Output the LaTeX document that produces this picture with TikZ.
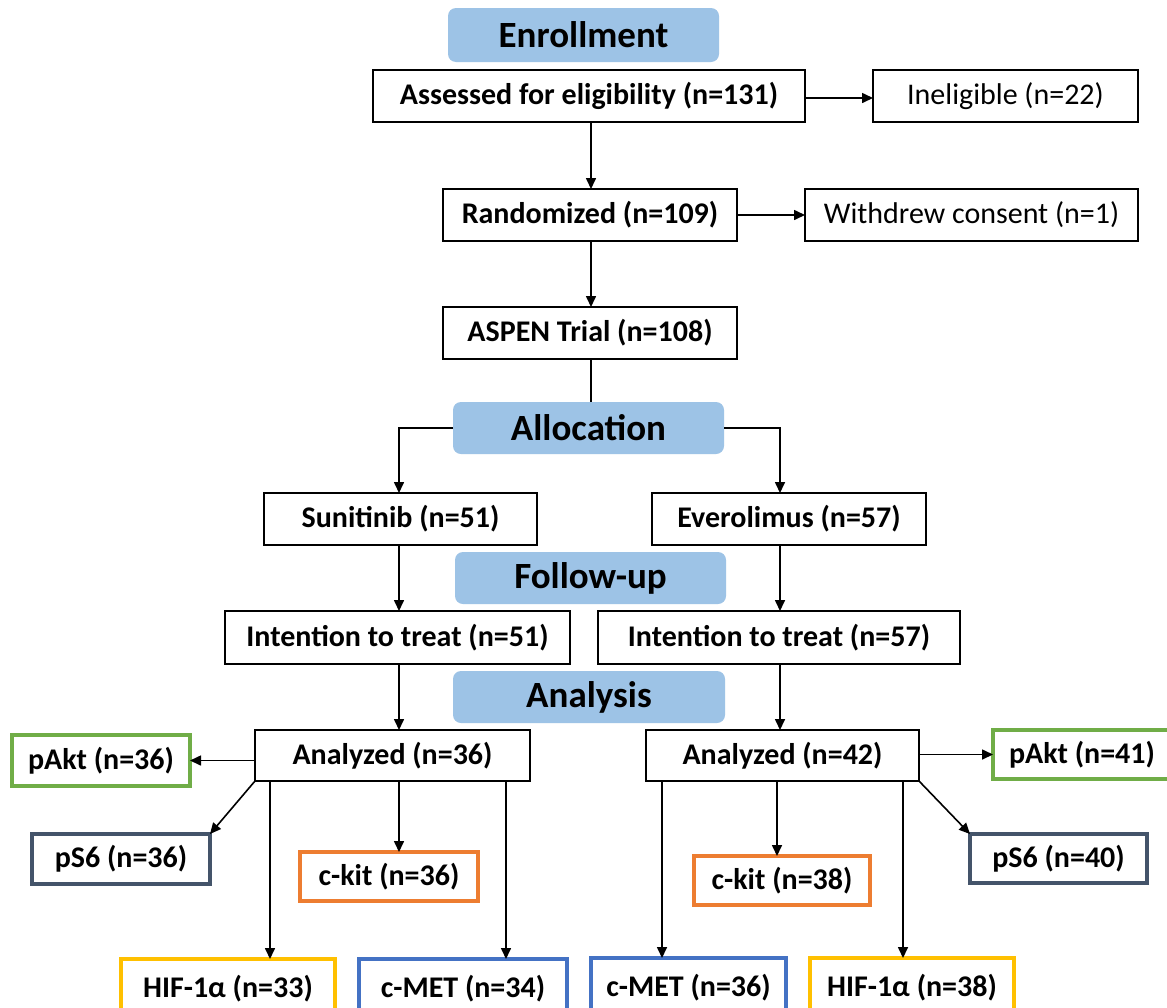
\documentclass[tikz,border=0pt]{standalone}
\usepackage{fontspec}
\setmainfont{Carlito}
\usetikzlibrary{arrows.meta,calc}
\definecolor{hdrblue}{HTML}{9DC3E6}
\definecolor{cgreen}{HTML}{70AD47}
\definecolor{cslate}{HTML}{44546A}
\definecolor{corange}{HTML}{ED7D31}
\definecolor{cyellow}{HTML}{FFC000}
\definecolor{cblue}{HTML}{4472C4}
\begin{document}
\begin{tikzpicture}[x=1pt,y=-1pt,
  every node/.style={inner sep=0pt, outer sep=0pt, text=black},
  hdr/.style={fill=hdrblue, rounded corners=8pt, font=\fontsize{37}{42}\selectfont\bfseries},
  bbox/.style={draw=black, line width=1.6pt, fill=white, font=\fontsize{30}{34}\selectfont\bfseries},
  nbox/.style={draw=black, line width=1.6pt, fill=white, font=\fontsize{30}{34}\selectfont},
  cbox/.style={draw=#1, line width=4.5pt, fill=white, font=\fontsize{30}{34}\selectfont\bfseries},
  conn/.style={draw=black, line width=1.6pt},
  arr/.style={conn, -{Triangle[length=11pt,width=10pt]}}
]
\useasboundingbox (0,0) rectangle (1167,1007);
\fill[white] (0,0) rectangle (1167,1007);

% headers
\node[hdr, minimum width=271pt, minimum height=54pt] (enroll) at (583.5,35) {Enrollment};
\node[hdr, minimum width=271pt, minimum height=52pt] (alloc) at (588.5,428) {Allocation};
\node[hdr, minimum width=271pt, minimum height=52pt] (follow) at (590.5,578) {Follow-up};
\node[hdr, minimum width=272pt, minimum height=52pt] (analysis) at (589,697) {Analysis};

% main boxes
\node[bbox, minimum width=432pt, minimum height=52pt] (assess) at (589,96) {Assessed for eligibility (n=131)};
\node[nbox, minimum width=265pt, minimum height=52pt] (inel) at (1005.5,96) {Ineligible (n=22)};
\node[bbox, minimum width=294pt, minimum height=52pt] (rand) at (590,215) {Randomized (n=109)};
\node[nbox, minimum width=333pt, minimum height=52pt] (withdrew) at (971.5,215) {Withdrew consent (n=1)};
\node[bbox, minimum width=294pt, minimum height=52pt] (aspen) at (590,333) {ASPEN Trial (n=108)};
\node[bbox, minimum width=273pt, minimum height=52pt] (suni) at (400.5,519) {Sunitinib (n=51)};
\node[bbox, minimum width=274pt, minimum height=52pt] (ever) at (789,519) {Everolimus (n=57)};
\node[bbox, minimum width=345pt, minimum height=53pt] (itt1) at (397.5,637.5) {Intention to treat (n=51)};
\node[bbox, minimum width=362pt, minimum height=53pt] (itt2) at (779,637.5) {Intention to treat (n=57)};
\node[bbox, minimum width=275pt, minimum height=51pt] (an1) at (392.5,755.5) {Analyzed (n=36)};
\node[bbox, minimum width=273pt, minimum height=51pt] (an2) at (782.5,755.5) {Analyzed (n=42)};

% marker boxes left
\node[cbox=cgreen, minimum width=178pt, minimum height=51pt] (pakt1) at (101,760.5) {pAkt (n=36)};
\node[cbox=cslate, minimum width=178pt, minimum height=50pt] (ps61) at (121,859) {pS6 (n=36)};
\node[cbox=corange, minimum width=178pt, minimum height=49pt] (ckit1) at (389,876.5) {c-kit (n=36)};
\node[cbox=cyellow, minimum width=214pt, minimum height=60pt] (hif1) at (228,989) {HIF-1α (n=33)};
\node[cbox=cblue, minimum width=208pt, minimum height=60pt] (cmet1) at (463,989) {c-MET (n=34)};
% marker boxes right
\node[cbox=cgreen, minimum width=178pt, minimum height=49pt] (pakt2) at (1082,754.5) {pAkt (n=41)};
\node[cbox=cslate, minimum width=177pt, minimum height=49pt] (ps62) at (1058.5,858.5) {pS6 (n=40)};
\node[cbox=corange, minimum width=176pt, minimum height=49pt] (ckit2) at (782,880.5) {c-kit (n=38)};
\node[cbox=cblue, minimum width=195pt, minimum height=60pt] (cmet2) at (688.5,988) {c-MET (n=36)};
\node[cbox=cyellow, minimum width=204pt, minimum height=60pt] (hif2) at (912,988) {HIF-1α (n=38)};

% column coordinates
\coordinate (cC) at (591,0);
\coordinate (cL) at (399,0);
\coordinate (cR) at (780,0);
\coordinate (xHL) at (270,0);
\coordinate (xML) at (506,0);
\coordinate (xKR) at (777,0);
\coordinate (xMR) at (662,0);
\coordinate (xHR) at (903,0);

% connectors top
\draw[arr] (assess.east |- 0,98) -- (inel.west |- 0,98);
\draw[arr] (assess.south -| cC) -- (rand.north -| cC);
\draw[arr] (rand.east) -- (withdrew.west);
\draw[arr] (rand.south -| cC) -- (aspen.north -| cC);
\draw[conn] (aspen.south -| cC) -- (alloc.north -| cC);
\draw[arr] (alloc.west) -| (suni.north -| cL);
\draw[arr] (alloc.east) -| (ever.north -| cR);
\draw[arr] (suni.south -| cL) -- (itt1.north -| cL);
\draw[arr] (ever.south -| cR) -- (itt2.north -| cR);
\draw[arr] (itt1.south -| cL) -- (an1.north -| cL);
\draw[arr] (itt2.south -| cR) -- (an2.north -| cR);

% left analysis
\draw[arr] (an1.west |- pakt1.east) -- (pakt1.east);
\draw[arr] (an1.south west) -- (ps61.north east);
\draw[arr] (an1.south -| xHL) -- (hif1.north -| xHL);
\draw[arr] (an1.south -| cL) -- (ckit1.north -| cL);
\draw[arr] (an1.south -| xML) -- (cmet1.north -| xML);

% right analysis
\draw[arr] (an2.east |- pakt2.west) -- (pakt2.west);
\draw[arr] (an2.south east) -- (ps62.north west);
\draw[arr] (an2.south -| xKR) -- (ckit2.north -| xKR);
\draw[arr] (an2.south -| xMR) -- (cmet2.north -| xMR);
\draw[arr] (an2.south -| xHR) -- (hif2.north -| xHR);
\end{tikzpicture}
\end{document}
